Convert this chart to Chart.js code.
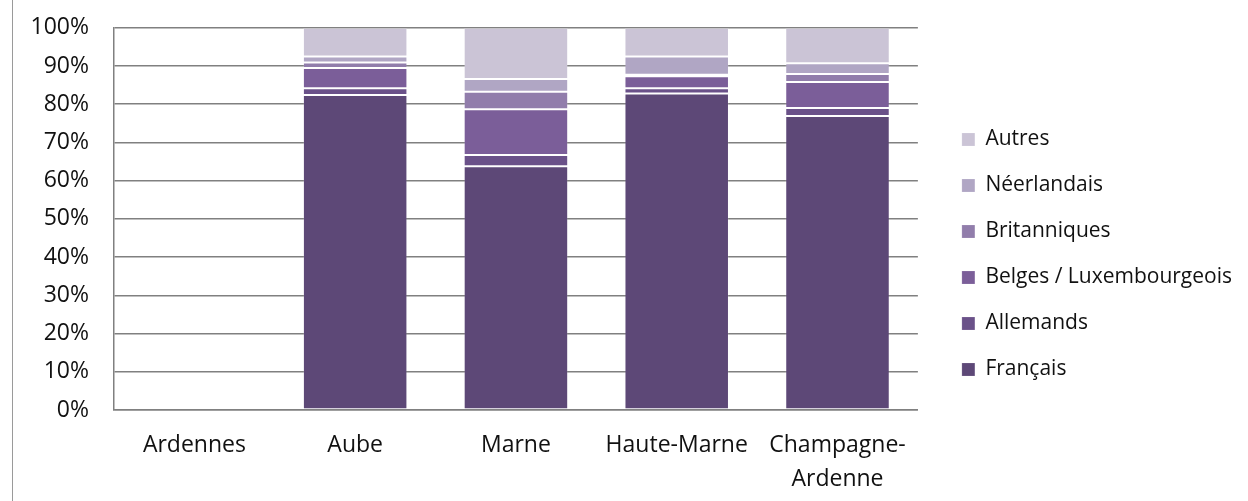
<!DOCTYPE html>
<html>
<head>
<meta charset="utf-8">
<script src="https://cdn.jsdelivr.net/npm/chart.js@4.4.1/dist/chart.umd.min.js"></script>
<style>
  html, body { margin: 0; padding: 0; background: #fff; }
  #wrap { position: relative; width: 1248px; height: 501px; }
  #edge { position: absolute; left: 12px; top: 0; width: 0; height: 501px; border-left: 1px solid #9a9a9a; }
</style>
</head>
<body>
<div id="wrap">
  <canvas id="chart" width="1248" height="501"></canvas>
  <div id="edge"></div>
</div>
<script>
// Categories and series (share of visitors, %)
const categories = ['Ardennes', 'Aube', 'Marne', 'Haute-Marne', ['Champagne-', 'Ardenne']];
const francais     = [null, 82.4, 63.8, 82.8, 76.9];
const allemands    = [null, 1.8, 2.9, 1.4, 2.1];
const belges       = [null, 5.3, 12.0, 3.1, 6.8];
const britanniques = [null, 1.4, 4.6, 0.4, 2.1];
const neerlandais  = [null, 1.6, 3.3, 4.8, 2.8];
const autres       = [null, 7.5, 13.4, 7.5, 9.3];
const yTicks = [0, 10, 20, 30, 40, 50, 60, 70, 80, 90, 100];

const FONT = "'Open Sans', sans-serif";
const TEXT = '#111';

function series(label, data, color) {
    return {
        label: label,
        data: data,
        backgroundColor: color,
        borderColor: 'rgba(255,255,255,0.15)',
        borderWidth: 1,
        borderSkipped: false,
        categoryPercentage: 1,
        barPercentage: 0.65
    };
}

const ctx = document.getElementById('chart').getContext('2d');
new Chart(ctx, {
    type: 'bar',
    data: {
        labels: categories,
        datasets: [
            series('Français', francais, '#5D4877'),
            series('Allemands', allemands, '#6A5189'),
            series('Belges / Luxembourgeois', belges, '#7B5E99'),
            series('Britanniques', britanniques, '#917DAB'),
            series('Néerlandais', neerlandais, '#B0A6C4'),
            series('Autres', autres, '#CBC4D6')
        ]
    },
    options: {
        responsive: false,
        animation: false,
        layout: { padding: { top: 8, bottom: 0, left: 0, right: 6 } },
        scales: {
            x: {
                stacked: true,
                afterFit: (scale) => { scale.height = 91; },
                grid: { display: false, drawTicks: false, tickLength: 0 },
                border: { display: true, color: '#808080', width: 1.5 },
                ticks: {
                    color: TEXT,
                    padding: 18,
                    maxRotation: 0,
                    autoSkip: false,
                    font: { family: FONT, size: 23, lineHeight: 1.48 }
                }
            },
            y: {
                stacked: true,
                min: 0,
                max: 100,
                afterBuildTicks: (scale) => { scale.ticks = yTicks.map(v => ({ value: v })); },
                afterFit: (scale) => { scale.width = 114; },
                grid: { color: '#808080', lineWidth: 1.5, drawTicks: true, tickLength: 11, tickColor: 'rgba(0,0,0,0)' },
                border: { display: true, color: '#808080', width: 1.5 },
                ticks: {
                    color: TEXT,
                    padding: 14,
                    callback: (v) => v + '%',
                    font: { family: FONT, size: 23 }
                }
            },
            gap: {
                position: 'right',
                display: true,
                grid: { display: false },
                border: { display: false },
                ticks: { display: false },
                afterFit: (scale) => { scale.width = 19; }
            }
        },
        plugins: {
            legend: {
                position: 'right',
                reverse: true,
                maxWidth: 330,
                labels: {
                    color: TEXT,
                    boxWidth: 13,
                    boxHeight: 13,
                    padding: 25,
                    font: { family: FONT, size: 21 }
                }
            },
            tooltip: { enabled: false }
        }
    }
});
</script>
</body>
</html>
